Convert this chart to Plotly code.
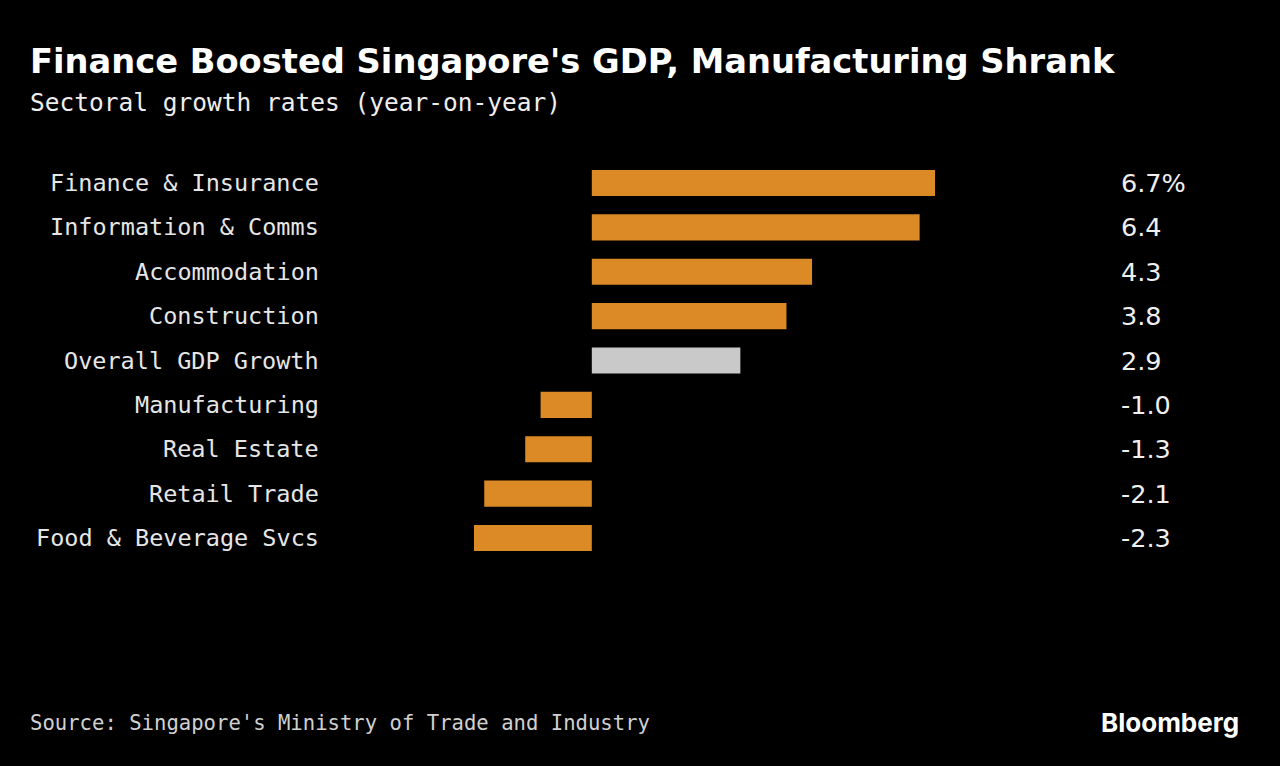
import plotly.graph_objects as go

categories = ["Finance & Insurance", "Information & Comms", "Accommodation", "Construction",
              "Overall GDP Growth", "Manufacturing", "Real Estate", "Retail Trade",
              "Food & Beverage Svcs"]
values = [6.7, 6.4, 4.3, 3.8, 2.9, -1.0, -1.3, -2.1, -2.3]
value_labels = ["6.7%", "6.4", "4.3", "3.8", "2.9", "-1.0", "-1.3", "-2.1", "-2.3"]
highlight = "Overall GDP Growth"

ORANGE = "#dc8a26"
GRAY = "#c9c9c9"
MONO = "DejaVu Sans Mono, Liberation Mono, monospace"
SANS = "DejaVu Sans, sans-serif"

colors = [GRAY if c == highlight else ORANGE for c in categories]

fig = go.Figure(go.Bar(
    x=values, y=categories, orientation="h",
    marker=dict(color=colors, line=dict(width=0)),
    hoverinfo="skip",
))

W, H = 1280, 766
fig.update_layout(
    width=W, height=H,
    margin=dict(l=0, r=0, t=0, b=0),
    paper_bgcolor="black", plot_bgcolor="black",
    showlegend=False,
    bargap=0.41,
    xaxis=dict(range=[min(values), max(values)], domain=[474 / W, 935 / W],
               visible=False, fixedrange=True),
    yaxis=dict(categoryorder="array", categoryarray=categories[::-1],
               domain=[1 - 560.2 / H, 1 - 160.8 / H], visible=False, fixedrange=True),
    font=dict(family=MONO, color="white"),
)

for c, lab in zip(categories, value_labels):
    fig.add_annotation(x=321 / W, xref="paper", y=c, yref="y", text=c,
                       xanchor="right", yanchor="middle", showarrow=False,
                       font=dict(size=23.5, color="#e6e6e6", family=MONO))
    fig.add_annotation(x=1119 / W, xref="paper", y=c, yref="y", text=lab,
                       xanchor="left", yanchor="middle", showarrow=False,
                       font=dict(size=25.5, color="#f0f0f0", family=SANS))

fig.add_annotation(x=28 / W, y=1 - 62 / H, xref="paper", yref="paper",
                   text="<b>Finance Boosted Singapore's GDP, Manufacturing Shrank</b>",
                   xanchor="left", yanchor="middle", showarrow=False,
                   font=dict(size=33.7, color="white", family=SANS))
fig.add_annotation(x=28 / W, y=1 - 102 / H, xref="paper", yref="paper",
                   text="Sectoral growth rates (year-on-year)",
                   xanchor="left", yanchor="middle", showarrow=False,
                   font=dict(size=24.5, color="#eeeeee", family=MONO))
fig.add_annotation(x=28 / W, y=1 - 723 / H, xref="paper", yref="paper",
                   text="Source: Singapore's Ministry of Trade and Industry",
                   xanchor="left", yanchor="middle", showarrow=False,
                   font=dict(size=20.6, color="#d0d0d0", family=MONO))
fig.add_annotation(x=1241 / W, y=1 - 722 / H, xref="paper", yref="paper",
                   text="<b>Bloomberg</b>",
                   xanchor="right", yanchor="middle", showarrow=False,
                   font=dict(size=26, color="white", family="Inter, Lato, sans-serif"))

fig.write_html("out.html")
